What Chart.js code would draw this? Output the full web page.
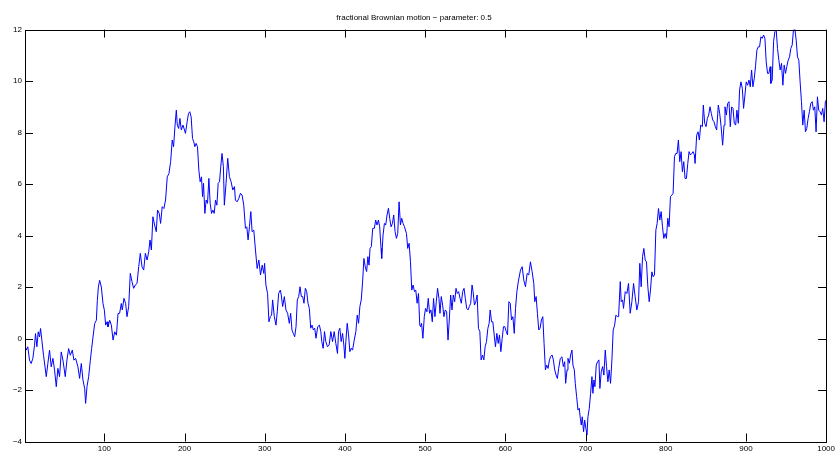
<!DOCTYPE html>
<html>
<head>
<meta charset="utf-8">
<title>fractional Brownian motion</title>
<script src="https://cdn.jsdelivr.net/npm/chart.js@4.4.1/dist/chart.umd.min.js"></script>
<style>
  html, body { margin: 0; padding: 0; background: #fff; }
  #wrap { width: 837px; height: 453px; }
</style>
</head>
<body>
<div id="wrap"><canvas id="myChart"></canvas></div>
<script>
const chartTitle = "fractional Brownian motion \u2212 parameter: 0.5";
const xTicks = [100, 200, 300, 400, 500, 600, 700, 800, 900, 1000];
const yTicks = [-4, -2, 0, 2, 4, 6, 8, 10, 12];

// sample index
const steps = [
    1, 2.5, 4.5, 6.6, 8.7, 10.8, 12.9, 14.1, 15.8, 17.5, 19.1, 20.4, 22, 24.1, 27.5, 29.5, 31.6, 33.7, 35.8, 37.9,
    40, 42, 44.1, 46.2, 48.3, 51.2, 53.3, 55.4, 57.5, 60, 62, 64.1, 67, 69.1, 71.2, 73.3, 75.4, 76.6, 78.3, 80.4,
    82.5, 84.1, 85.8, 87.9, 90, 91.2, 92.5, 94.1, 96.2, 98.3, 100, 101.6, 103.3, 104.5, 106.6, 108.7, 110.8, 112.9, 115, 117,
    119, 121.1, 122.3, 124.4, 126.5, 128.2, 130.3, 132.3, 134.4, 136.5, 138.6, 140.7, 142.8, 144.8, 146.9, 149, 151.1, 153.2, 155.3, 156.9,
    158.6, 160.5, 162.6, 164.7, 166.3, 168.4, 170.1, 172.1, 174.2, 176.3, 178.4, 180.5, 182.6, 184.6, 186.3, 188, 189.7, 190.9, 192.6, 194.2,
    195.9, 198, 199.9, 201.1, 203.2, 204.9, 206.5, 208.2, 209.9, 211.5, 212.8, 214.4, 216.1, 217.8, 219.4, 221.1, 222.4, 223.6, 225.3, 226.9,
    228.6, 230.3, 231.9, 233.6, 235.3, 236.9, 238.6, 240.3, 241.9, 243.6, 245.1, 246.7, 248.4, 249.6, 251.7, 253.8, 255.9, 258, 260.1, 262.2,
    263.4, 265.5, 267.6, 269.7, 271.7, 273.8, 275.9, 277.6, 279.2, 280.9, 282.6, 284.2, 286.3, 288.4, 290.5, 292.6, 294.7, 296.8, 298.8, 299.8,
    301.4, 303.5, 305.2, 306.9, 308.5, 309.8, 311.9, 314, 315.6, 317.3, 319.4, 320.6, 322.3, 324.4, 326.4, 328.5, 330.6, 332.3, 333.9, 335.6,
    337.3, 339, 340.6, 342.3, 344, 345.6, 347.3, 348.9, 350.6, 352.3, 353.9, 355.6, 357.3, 358.9, 360.6, 362.3, 363.9, 366, 368.1, 369.9,
    371.1, 372.8, 374.5, 376.1, 378.2, 380.3, 382.4, 384.5, 386.6, 388.6, 390.7, 392, 393.6, 395.3, 397, 398.6, 399.9, 401.1, 402.8, 404.5,
    406.1, 407.8, 409.5, 411.6, 413.6, 415.3, 417, 418.6, 420.3, 422, 423.6, 425.3, 427, 428.6, 430, 431.3, 432.9, 434.6, 436.7, 438.3,
    440, 441.7, 443.3, 445, 445.8, 447.5, 449.2, 450.8, 452.5, 454.2, 455.8, 457.5, 459.2, 460.8, 462.5, 464.2, 465.8, 467.5, 469.2, 470.8,
    472.5, 474.2, 476.7, 478.3, 480, 481.7, 483.3, 485, 486.7, 488.3, 490, 491.7, 493.3, 494.3, 495.5, 497.2, 498.9, 500.5, 502.2, 503.9,
    505.5, 507.2, 508.9, 510.5, 512.2, 513.9, 515.5, 517.2, 518.5, 520.1, 521.8, 523.4, 525.1, 526.8, 528.5, 530.1, 531.8, 533.5, 535.1, 536.8,
    538.5, 540.1, 541.8, 543.5, 545.1, 546.8, 548.5, 550.1, 551.8, 553.5, 555.1, 556.8, 558.5, 559.8, 561.5, 563.2, 564.8, 566.5, 568.2, 569.8,
    571.5, 573.2, 574.8, 576.5, 578.2, 579.8, 581.1, 582.8, 584.4, 586.1, 587.7, 589.4, 591.1, 592.7, 594.4, 596.1, 597.7, 599.4, 601.1, 602.7,
    604.4, 606.1, 607.7, 609.4, 611.1, 612.7, 614.4, 616.1, 618.9, 621, 623, 625.1, 627.2, 629.2, 631.3, 633.4, 635.5, 636.7, 638.4, 640,
    641.7, 643.3, 645, 646.7, 648.3, 650, 651.6, 653.3, 655, 656.6, 658.3, 659.9, 661.6, 663.3, 664.9, 666.5, 668.6, 670.6, 672.3, 674,
    675.2, 676.9, 678.1, 679.8, 681.4, 683.1, 684.3, 686, 687.2, 688.9, 690.6, 692.2, 693.5, 694.7, 695.9, 697.6, 698.9, 700.5, 701.8, 703,
    704.7, 706.3, 708, 709.2, 710.5, 711.7, 713.4, 715, 716.7, 717.9, 719.6, 721.3, 722.9, 724.6, 726.2, 727.9, 729.5, 731.2, 732.9, 734.5,
    736.3, 737.9, 739.6, 741.2, 743.3, 744.5, 746.2, 747.4, 749.5, 751.6, 753.6, 755.7, 757.8, 759.9, 761.9, 764, 766.1, 767.7, 769.4, 771.1,
    772.7, 774.4, 776, 777.7, 779.4, 781, 782.7, 784.3, 786, 787.7, 789.3, 791, 792.6, 794.3, 796, 797.6, 799.3, 800.9, 802.6, 804.2,
    805.9, 807.6, 809.2, 810.9, 812.5, 814.2, 815.8, 817.5, 819.2, 820.8, 822.5, 824.1, 825.8, 827.5, 829.1, 830.8, 832.5, 834.1, 835.8, 836.6,
    838.6, 840.3, 842, 843.6, 845.7, 846.9, 848.6, 850.3, 851.9, 853.6, 855.2, 856.9, 858.6, 860.2, 861.9, 863.5, 865.6, 867.3, 868.9, 871,
    872.7, 873.9, 875.6, 877.2, 878.9, 880.5, 882.2, 883.9, 885.5, 887.2, 888.8, 890.5, 892.1, 893.8, 895.5, 897.1, 898.8, 900.4, 902.1, 903.8,
    905.4, 907.1, 908.7, 910.4, 912.1, 913.7, 915.4, 917, 918.7, 920.4, 922, 923.7, 925.3, 927, 928.6, 930.3, 931.1, 932.8, 934.5, 936.1,
    937.8, 939.4, 941.1, 942.7, 944.4, 946.1, 947.7, 949.4, 951, 952.7, 954.4, 956, 957.7, 959.3, 961, 962.7, 964.3, 966, 967.6, 969.3,
    970.9, 972.6, 974.3, 975.9, 977.6, 979.2, 980.9, 982.6, 984.2, 985.9, 987.5, 989.2, 990.8, 992.5, 994.2, 995.8, 997.5, 999.1, 1000
];

// process value at each sample
const values = [
    -0.26, -0.45, -0.32, -0.84, -0.97, -0.77, -0.26, 0.19, -0.32, 0.26, 0.06, 0.39, -0.06, -0.65, -1.48, -0.97, -0.45, -1.1, -0.77, -1.23,
    -1.87, -1.16, -1.48, -0.52, -0.84, -1.48, -0.84, -0.39, -0.65, -0.45, -0.84, -0.77, -1.1, -1.55, -0.97, -1.61, -1.94, -2.52, -1.87, -1.48,
    -0.84, -0.39, 0.06, 0.58, 0.71, 1.48, 2, 2.26, 2, 1.35, 1.1, 0.52, 0.65, 0.45, 0.71, 0.52, -0.06, 0.26, 0.13, 0.97,
    0.98, 1.36, 1.11, 1.56, 1.36, 0.85, 1.24, 2.53, 2.21, 1.95, 2.08, 2.14, 2.79, 3.31, 2.79, 2.66, 3.31, 3.05, 3.37, 3.83,
    3.44, 4.73, 4.41, 4.15, 4.99, 4.86, 4.47, 5.12, 5.05, 5.38, 6.28, 6.41, 6.87, 7.71, 7.45, 8.23, 8.87, 8.29, 8.16, 8.55,
    8.1, 8.29, 8.1, 7.97, 8.42, 8.74, 8.81, 8.61, 7.77, 7.64, 7.45, 7.58, 7.45, 6.54, 6.09, 6.28, 5.51, 6.03, 4.86, 5.38,
    5.25, 6.22, 5.25, 4.86, 4.99, 4.86, 5.38, 5.18, 6.03, 6.09, 6.67, 7.19, 6.67, 5.18, 6.03, 7, 6.29, 6.09, 5.77, 5.9,
    5.38, 5.31, 5.44, 5.64, 5.57, 5.18, 4.28, 4.34, 3.83, 4.34, 4.93, 4.15, 4.21, 3.44, 2.72, 3.05, 2.47, 2.85, 2.53, 2.92,
    2.08, 1.75, 0.65, 0.85, 0.91, 1.5, 0.85, 0.52, 1.04, 1.75, 1.88, 1.69, 1.24, 1.63, 1.11, 0.98, 0.59, 0.98, 0.33, 0.2,
    0.07, 0.46, 1.5, 1.63, 2.01, 1.63, 1.63, 1.37, 1.95, 1.82, 1.37, 1.17, 0.4, 0.52, 0.33, 0.4, 0.01, 0.46, 0.52, 0.27,
    -0.12, -0.38, 0.27, -0.12, -0.32, -0.25, 0.27, -0.12, 0.27, -0.19, -0.58, 0.27, 0.4, -0.12, 0.2, -0.25, -0.77, -0.12, 0.59, 0.14,
    -0.51, -0.38, -0.45, -0.06, 0.27, 0.91, 0.59, 1.24, 1.5, 2.2, 3.11, 2.79, 2.6, 3.18, 2.85, 3.5, 3.57, 4.28, 4.28, 4.6,
    4.41, 4.6, 4.34, 3.5, 3.11, 4.02, 4.47, 4.41, 4.8, 5.06, 4.67, 4.34, 4.47, 4.8, 4.15, 3.89, 4.08, 5.31, 4.41, 4.67,
    4.47, 4.34, 4.08, 3.5, 3.7, 2.98, 1.88, 2.08, 1.82, 1.88, 1.37, 1.75, 0.52, 0.46, 0.59, 0.01, 0.85, 1.17, 1.04, 1.56,
    0.98, 1.11, 0.65, 1.56, 0.85, 1.43, 1.95, 1.56, 0.98, 1.63, 1.3, 0.85, 1.11, 1.04, -0.06, 0.72, 1.69, 1.11, 1.69, 1.43,
    1.95, 1.75, 1.82, 1.56, 1.37, 1.82, 1.95, 1.56, 1.17, 1.11, 1.24, 1.37, 2.08, 1.82, 1.3, 1.43, 1.69, 0.39, 0.27, -0.83,
    -0.64, -0.83, -0.32, -0.12, 0.39, 0.59, 1.11, 0.65, 0.65, 0.14, -0.32, 0.2, -0.19, 0.14, -0.51, 0.01, 0.46, 0.46, 0.27, 0.14,
    1.43, 1.37, 0.72, 0.85, 0.2, 1.17, 1.82, 2.2, 2.66, 2.79, 2.27, 2.01, 2.53, 2.47, 2.98, 2.6, 2.14, 1.43, 1.63, 0.98,
    0.33, 0.4, 0.72, 0.85, -0.19, -1.22, -1.03, -1.16, -0.83, -0.7, -0.64, -0.83, -1.22, -1.42, -1.55, -1.16, -0.77, -0.71, -1.09, -0.9,
    -1.74, -1.22, -0.77, -0.96, -0.64, -0.45, -1.03, -1.22, -1.74, -2.26, -2.78, -2.71, -3.1, -3.36, -3.04, -3.62, -3.17, -3.49, -3.75, -3.04,
    -2.71, -2.13, -1.48, -2.13, -1.61, -1.87, -1.03, -0.9, -0.83, -1.94, -1.29, -1.09, -1.42, -0.45, -1.09, -1.68, -1.22, -1.74, -0.83, 0.33,
    0.52, 0.91, 0.85, 0.85, 2.21, 1.43, 1.5, 1.17, 1.82, 1.75, 2.14, 0.98, 1.43, 2.14, 1.62, 1.11, 1.43, 2.92, 2.01, 3.18,
    3.5, 3.05, 2.98, 2.01, 1.43, 1.88, 2.59, 2.4, 2.47, 4.21, 4.47, 5.05, 4.6, 4.93, 4.34, 3.89, 4.08, 3.89, 4.67, 4.34,
    5.51, 5.57, 5.64, 7.06, 7.19, 7.19, 7.71, 6.87, 7.26, 6.48, 6.87, 6.22, 6.22, 6.8, 7.26, 7.13, 7.19, 7.26, 7.13, 6.8,
    7.9, 8.03, 7.71, 8.29, 8.23, 9.07, 8.36, 8.23, 8.55, 8.68, 9, 8.74, 8.49, 8.42, 8.23, 8.1, 9.07, 8.74, 8.29, 7.51,
    8.29, 9, 8.68, 9.13, 9.2, 8.23, 9, 8.94, 8.36, 8.29, 8.87, 8.36, 9.65, 9.97, 9.72, 8.94, 9.46, 9.97, 9.84, 10.04,
    9.78, 10.43, 9.78, 10.1, 10.62, 11.2, 11.33, 11.33, 11.72, 11.66, 11.79, 11.66, 10.75, 10.3, 10.3, 10.56, 9.91, 10.04, 11.53, 11.92,
    11.98, 11.27, 10.81, 10.43, 10.69, 9.84, 10.62, 10.3, 10.56, 10.81, 10.94, 11.27, 11.4, 11.98, 12.05, 11.59, 10.94, 10.81, 9.97, 9.2,
    8.29, 8.87, 8.03, 8.16, 8.55, 8.81, 9.13, 9.2, 8.87, 9, 8.03, 9.39, 8.87, 8.81, 8.68, 8.94, 8.42, 9.2, 9.26
];

const minusSign = v => String(v).replace('-', '\u2212');

// matlab style box with inward ticks
const boxAxes = {
    id: 'boxAxes',
    afterDraw(chart) {
        const {ctx, chartArea: a, scales: {x, y}} = chart;
        ctx.save();
        ctx.strokeStyle = '#000';
        ctx.lineWidth = 1;
        ctx.beginPath();
        xTicks.forEach(v => {
            const px = Math.round(x.getPixelForValue(v)) + 0.5;
            ctx.moveTo(px, a.bottom); ctx.lineTo(px, a.bottom - 8);
            ctx.moveTo(px, a.top); ctx.lineTo(px, a.top + 8);
        });
        yTicks.forEach(v => {
            const py = Math.round(y.getPixelForValue(v)) + 0.5;
            ctx.moveTo(a.left, py); ctx.lineTo(a.left + 8, py);
            ctx.moveTo(a.right, py); ctx.lineTo(a.right - 8, py);
        });
        ctx.stroke();
        ctx.strokeRect(Math.round(a.left) + 0.5, Math.round(a.top) + 0.5,
            Math.round(a.right - a.left), Math.round(a.bottom - a.top));
        ctx.restore();
    }
};

new Chart("myChart", {
    type: "line",
    data: {
        datasets: [{
            data: steps.map((s, i) => ({x: s, y: values[i]})),
            borderColor: "#0000ff",
            borderWidth: 1,
            pointRadius: 0,
            tension: 0,
            fill: false
        }]
    },
    options: {
        responsive: true,
        maintainAspectRatio: false,
        animation: false,
        devicePixelRatio: 1,
        layout: { padding: { left: 0, right: 9, top: 0, bottom: 0 } },
        plugins: {
            legend: { display: false },
            tooltip: { enabled: false },
            title: {
                display: true,
                text: chartTitle,
                color: "#000",
                font: { family: "Liberation Sans", size: 8, weight: "normal" },
                padding: { top: 13, bottom: 7 }
            }
        },
        scales: {
            x: {
                type: "linear",
                min: 1,
                max: 1000,
                afterBuildTicks: scale => { scale.ticks = xTicks.map(v => ({value: v})); },
                afterFit: scale => { scale.height = 11.5; },
                grid: { display: false, drawTicks: false },
                border: { display: false },
                ticks: {
                    color: "#000",
                    font: { family: "Liberation Sans", size: 8 },
                    padding: 2,
                    maxRotation: 0,
                    autoSkip: false,
                    callback: minusSign
                }
            },
            y: {
                type: "linear",
                min: -4,
                max: 12,
                afterBuildTicks: scale => { scale.ticks = yTicks.map(v => ({value: v})); },
                afterFit: scale => { scale.width = 25; },
                grid: { display: false, drawTicks: false },
                border: { display: false },
                ticks: {
                    color: "#000",
                    font: { family: "Liberation Sans", size: 8 },
                    padding: 3,
                    autoSkip: false,
                    callback: minusSign
                }
            }
        }
    },
    plugins: [boxAxes]
});
</script>
</body>
</html>
